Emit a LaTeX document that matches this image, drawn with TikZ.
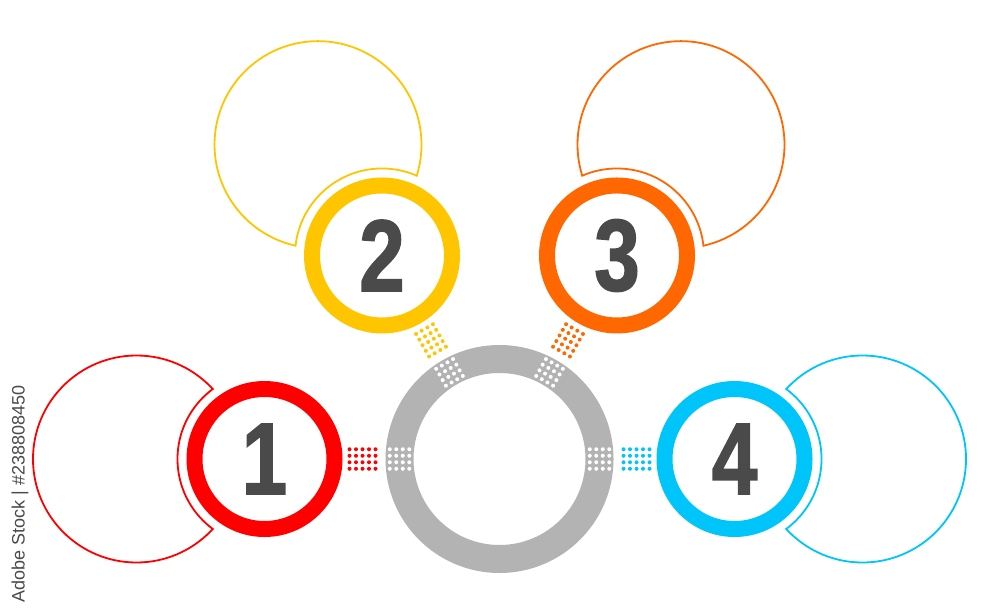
\documentclass[tikz,border=0pt]{standalone}
\usepackage{fontspec}
\setmainfont{Liberation Sans}
\newfontfamily\numfont{Liberation Sans}[FakeStretch=0.8, BoldFeatures={FakeBold=1.5}]
\usetikzlibrary{calc}
\definecolor{cred}{RGB}{255,0,0}
\definecolor{cyel}{RGB}{255,198,0}
\definecolor{corg}{RGB}{255,104,0}
\definecolor{cblu}{RGB}{0,197,250}
\definecolor{cgray}{RGB}{179,179,179}
\definecolor{cdig}{RGB}{74,74,74}
\tikzset{
  outline/.style={line width=1.8pt},
  numring/.style={line width=16pt},
  digit/.style={text=cdig, inner sep=0pt, font=\numfont\bfseries\fontsize{102}{102}\selectfont},
  dotc/.style={radius=2pt}
}
\begin{document}
\begin{tikzpicture}[x=1pt,y=-1pt]
\useasboundingbox (0,0) rectangle (1000,615);
\fill[white] (0,0) rectangle (1000,615);
\coordinate (g) at (499.5,459);
% gray ring
\draw[line width=28pt, cgray] (g) circle (100pt);
\foreach \a/\col/\n in {180/cred/1, -120/cyel/2, -60/corg/3, 0/cblu/4} {
  \coordinate (n\n) at ($(g)+(\a:235)$);
  \coordinate (b\n) at ($(g)+(\a:363)$);
  \begin{scope}[even odd rule]
    \clip (-10,-10) rectangle (1010,625) (n\n) circle (87pt);
    \draw[outline, draw=\col] (b\n) circle (103.5pt);
  \end{scope}
  \begin{scope}
    \clip (b\n) circle (104.4pt);
    \draw[outline, draw=\col] (n\n) circle (87pt);
  \end{scope}
  % coloured dot patch
  \foreach \i in {-2,-1,0,1,2} {
    \foreach \j in {-1.5,-0.5,0.5,1.5} {
      \fill[\col] ($(g)+(\a:137+\i*6.5)+(\a+90:\j*6.5)$) circle[dotc];
    }
  }
  % white dot patch in the gray ring
  \foreach \i in {-1.5,-0.5,0.5,1.5} {
    \foreach \j in {-1.5,-0.5,0.5,1.5} {
      \fill[white] ($(g)+(\a:100+\i*6.5)+(\a+90:\j*6.5)$) circle[dotc];
    }
  }
  \draw[numring, draw=\col, fill=white] (n\n) circle (70pt);
  \node[digit] (d\n) at (n\n) {\n};
}
\node[rotate=90, text=cdig, inner sep=0pt, font=\fontsize{18}{18}\selectfont] (wm) at (20,494) {Adobe Stock | \#238808450};
\end{tikzpicture}
\end{document}
